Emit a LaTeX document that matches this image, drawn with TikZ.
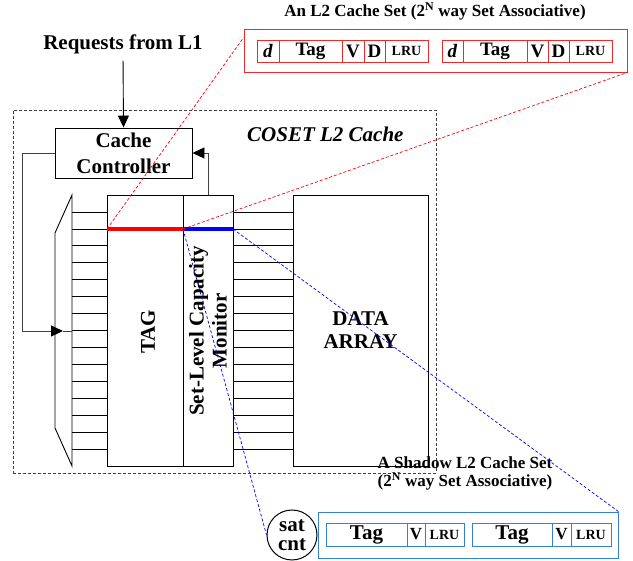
\documentclass[tikz,border=0pt]{standalone}
\usepackage{fontspec}
\setmainfont{Liberation Serif}
\usetikzlibrary{arrows.meta,calc}
\definecolor{shadowblue}{RGB}{50,130,210}
\definecolor{boxred}{RGB}{240,40,40}
\begin{document}
\begin{tikzpicture}[x=1pt,y=-1pt,
  lbl/.style={font=\bfseries\fontsize{21}{23}\selectfont, align=center, inner sep=0pt},
  box/.style={draw, line width=0.9pt, inner sep=0pt},
  rcell/.style={draw=boxred, line width=0.8pt, inner sep=0pt, minimum height=22, font=\bfseries\fontsize{19}{21}\selectfont},
  bcell/.style={draw=shadowblue, line width=0.8pt, inner sep=0pt, minimum height=23, font=\bfseries\fontsize{21}{23}\selectfont},
  small/.style={font=\bfseries\fontsize{14}{16}\selectfont},
  loopline/.style={black!75, line width=0.9pt},
  tri/.style={-{Triangle[length=12pt,width=11pt,color=black]}},
  reddash/.style={red, dash pattern=on 3pt off 2pt, line width=0.7pt},
  bluedash/.style={blue, dash pattern=on 3pt off 2pt, line width=0.7pt}]
\useasboundingbox (0,0) rectangle (633,561);

% outer dashed COSET region
\node[draw=black!75, dash pattern=on 3pt off 2pt, line width=0.8pt, minimum width=423, minimum height=363, inner sep=0pt] (coset) at (224.5,291.5) {};
\node[anchor=base west, font=\bfseries\itshape\fontsize{21}{24}\selectfont, inner sep=0pt] (cosetlbl) at (247,142) {COSET L2 Cache};

% requests and controller
\node[lbl, anchor=base] (req) at (123,50) {Requests from L1};
\node[box, minimum width=137, minimum height=50, align=center, font=\bfseries\fontsize{21}{26}\selectfont] (ctrl) at (123.5,153) {Cache\\Controller};
\draw[tri, line width=0.9pt, shorten <=6pt] (req.south) -- (ctrl.north);

% decoder
\draw[line width=0.9pt] (72,195) -- (55,233) -- (55,428) -- (72,466) -- cycle;

% TAG, monitor, data array
\node[box, minimum width=76, minimum height=271] (tag) at (145,330.5) {};
\node[box, minimum width=50, minimum height=271] (slcm) at (208,330.5) {};
\node[box, minimum width=135, minimum height=271, lbl] (data) at (360.5,330.5) {DATA\\ARRAY};
\node[lbl, rotate=90] (taglbl) at (148,332) {TAG};
\node[lbl, rotate=90] (slcmlbl) at (208,331) {Set-Level Capacity\\Monitor};

% word lines
\foreach \i in {0,...,14} {
  \draw[line width=0.8pt] (72,{212+\i*16.93}) -- (107,{212+\i*16.93});
  \draw[line width=0.8pt] (233,{212+\i*16.93}) -- (293,{212+\i*16.93});
}

% feedback loops
\coordinate (decin) at (63,331);
\draw[loopline, tri] (ctrl.west) -- ++(-32,0) |- (decin);
\draw[loopline] (decin) -- (72,331);
\draw[loopline, tri] (slcm.north) |- (ctrl.east);

% highlighted set
\coordinate (setL) at (107,229);
\coordinate (setM) at (183,229);
\coordinate (setR) at (233,229);
\draw[red, line width=4pt] (setL) -- (setM);
\draw[blue, line width=4pt] (setM) -- (setR);

% L2 cache set (top)
\node[font=\bfseries\fontsize{17}{20}\selectfont, anchor=base, inner sep=0pt] (toptitle) at (435,17) {An L2 Cache Set (2\textsuperscript{N} way Set Associative)};
\node[draw=boxred, line width=0.9pt, minimum width=383, minimum height=43, inner sep=0pt] (redbox) at (435.5,50.5) {};
\node[rcell, minimum width=22] (d1) at (268,51) {\textit{d}};
\node[rcell, minimum width=63] (t1) at (310.5,51) {Tag};
\node[rcell, minimum width=22] (v1) at (353,51) {V};
\node[rcell, minimum width=21] (dd1) at (374.5,51) {D};
\node[rcell, minimum width=43, small] (l1) at (406.5,51) {LRU};
\node[rcell, minimum width=21] (d2) at (452.5,51) {\textit{d}};
\node[rcell, minimum width=64] (t2) at (495,51) {Tag};
\node[rcell, minimum width=21] (v2) at (537.5,51) {V};
\node[rcell, minimum width=21] (dd2) at (558.5,51) {D};
\node[rcell, minimum width=43, small] (l2) at (590.5,51) {LRU};
\coordinate (redin) at ($(redbox.north west)+(0,9)$);
\draw[reddash] (setL) -- (redin);
\draw[reddash] (setM) -- (redbox.south east);

% shadow set (bottom)
\node[font=\bfseries\fontsize{17}{18}\selectfont, align=center, anchor=base, inner sep=0pt] (bottitle) at (465,487) {A Shadow L2 Cache Set\\(2\textsuperscript{N} way Set Associative)};
\node[draw=shadowblue, line width=0.9pt, minimum width=300, minimum height=46, inner sep=0pt] (bluebox) at (468,535) {};
\node[bcell, minimum width=81] (bt1) at (366.5,534.5) {Tag};
\node[bcell, minimum width=18, font=\bfseries\fontsize{17}{19}\selectfont] (bv1) at (416,534.5) {V};
\node[bcell, minimum width=39, small] (bl1) at (444.5,534.5) {LRU};
\node[bcell, minimum width=80] (bt2) at (512,534.5) {Tag};
\node[bcell, minimum width=19, font=\bfseries\fontsize{17}{19}\selectfont] (bv2) at (561.5,534.5) {V};
\node[bcell, minimum width=40, small] (bl2) at (591,534.5) {LRU};
\node[draw, circle, line width=1pt, minimum size=50, inner sep=0pt, align=center, font=\bfseries\fontsize{21}{19}\selectfont] (sat) at (292,535) {sat\\cnt};
\draw[bluedash] (setM) -- (sat.west);
\draw[bluedash] (setR) -- (bluebox.north east);
\end{tikzpicture}
\end{document}
